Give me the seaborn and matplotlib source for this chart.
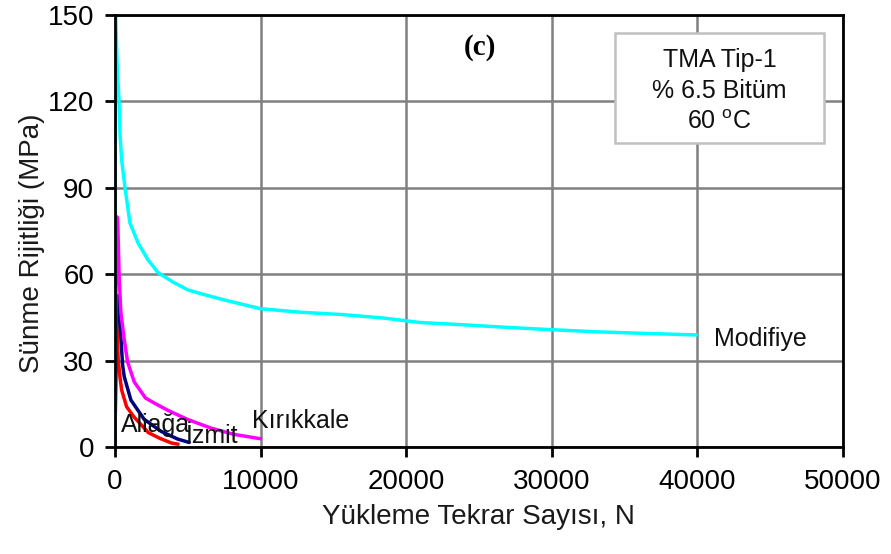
import matplotlib
matplotlib.use("Agg")
import matplotlib.pyplot as plt
from matplotlib.patches import Rectangle
import seaborn as sns
import pandas as pd

# Creep stiffness vs. load repetitions for each binder
modifiye_n = [0, 20, 48, 150, 274, 342, 459, 685, 1027, 1596, 2281, 2966, 4000,
              5021, 6200, 7534, 10000, 12671, 15500, 18356, 21000, 24000, 27000,
              30479, 33000, 36000, 39932]
modifiye_s = [0, 200, 150, 133, 120.5, 109, 99.7, 90.3, 77.8, 70.7, 64.9, 60.5, 57.2,
              54.5, 52.8, 51.0, 48.0, 46.8, 46.0, 44.8, 43.2, 42.4, 41.5,
              40.6, 40.0, 39.5, 38.9]

kirikkale_n = [0, 100, 183, 297, 411, 640, 869, 1326, 2100, 2800, 3612, 4985,
               6584, 8180, 10000]
kirikkale_s = [0, 80, 79.5, 58, 46.5, 37.2, 29.5, 22.6, 17.0, 15.0, 12.8, 9.6,
               6.6, 4.4, 2.9]

izmit_n = [0, 100, 183, 297, 411, 525, 640, 1097, 2011, 3155, 4300, 5100]
izmit_s = [0, 52, 52.5, 45.5, 37.8, 28.5, 24.4, 16.3, 9.6, 5.5, 2.8, 1.6]

aliaga_n = [0, 100, 116, 226, 342, 459, 801, 1300, 2300, 3100, 3884, 4336]
aliaga_s = [0, 44, 44.7, 30.2, 24.4, 19.8, 14.0, 10.5, 5.0, 3.0, 1.4, 1.0]

series = [
    ("Aliağa", aliaga_n, aliaga_s, "#ff0000"),
    ("İzmit", izmit_n, izmit_s, "#000080"),
    ("Kırıkkale", kirikkale_n, kirikkale_s, "#ff00ff"),
    ("Modifiye", modifiye_n, modifiye_s, "#00ffff"),
]

x_ticks = [0, 10000, 20000, 30000, 40000, 50000]
y_ticks = [0, 30, 60, 90, 120, 150]

info_lines = ["TMA Tip-1", "% 6.5 Bitüm", "60 $^{\\mathregular{o}}$C"]

sns.set_theme(style="white")
plt.rcParams["font.family"] = ["Liberation Sans", "DejaVu Sans"]

FS_AX = 20
FS_TXT = 18

fig = plt.figure(figsize=(8.91, 5.54), dpi=100)
ax = fig.add_axes([0.129, 0.193, 0.817, 0.7805])

for name, n, s, color in series:
    df = pd.DataFrame({"N": n, "S": s})
    sns.lineplot(data=df, x="N", y="S", ax=ax, color=color, linewidth=2.5,
                 sort=False, estimator=None)

ax.set_xlim(0, 50000)
ax.set_ylim(0, 150)
ax.set_xticks(x_ticks)
ax.set_yticks(y_ticks)
ax.set_xticklabels([str(v) for v in x_ticks])
ax.set_yticklabels([str(v) for v in y_ticks])

ax.grid(True, color="#808080", linewidth=1.8)
ax.set_axisbelow(True)
for sp in ax.spines.values():
    sp.set_color("black")
    sp.set_linewidth(2)
ax.tick_params(axis="both", direction="out", length=7, width=2, color="black",
               labelsize=FS_AX, labelcolor="black", bottom=True, left=True)
ax.tick_params(axis="x", pad=9)
ax.tick_params(axis="y", pad=8)

ax.set_xlabel("Yükleme Tekrar Sayısı, N", fontsize=FS_AX, color="#1a1a1a", labelpad=6)
ax.set_ylabel("Sünme Rijitliği (MPa)", fontsize=FS_AX, color="#1a1a1a")
ax.yaxis.set_label_coords(-0.096, 0.472)

# Curve labels
ax.text(41164, 35.1, "Modifiye", fontsize=FS_TXT, color="#111111", va="baseline", ha="left")
ax.text(9384, 6.6, "Kırıkkale", fontsize=FS_TXT, color="#111111", va="baseline", ha="left")
ax.text(4860, 1.4, "İzmit", fontsize=FS_TXT, color="#111111", va="baseline", ha="left")
ax.text(410, 5.2, "Aliağa", fontsize=FS_TXT, color="#111111", va="baseline", ha="left")

ax.text(25100, 136, "(c)", fontsize=21, fontweight="bold", ha="center", va="baseline",
        family=["Liberation Serif", "DejaVu Serif"], color="black")

# Test conditions box
ax.add_patch(Rectangle((0.687, 0.704), 0.287, 0.254, transform=ax.transAxes,
                       facecolor="white", edgecolor="#c0c0c0", linewidth=1.8, zorder=5))
for line, yb in zip(info_lines, [0.880, 0.808, 0.736]):
    ax.text(0.8305, yb, line, transform=ax.transAxes, fontsize=FS_TXT, ha="center",
            va="baseline", color="#111111", zorder=6)

fig.savefig("out.png", dpi=100)
